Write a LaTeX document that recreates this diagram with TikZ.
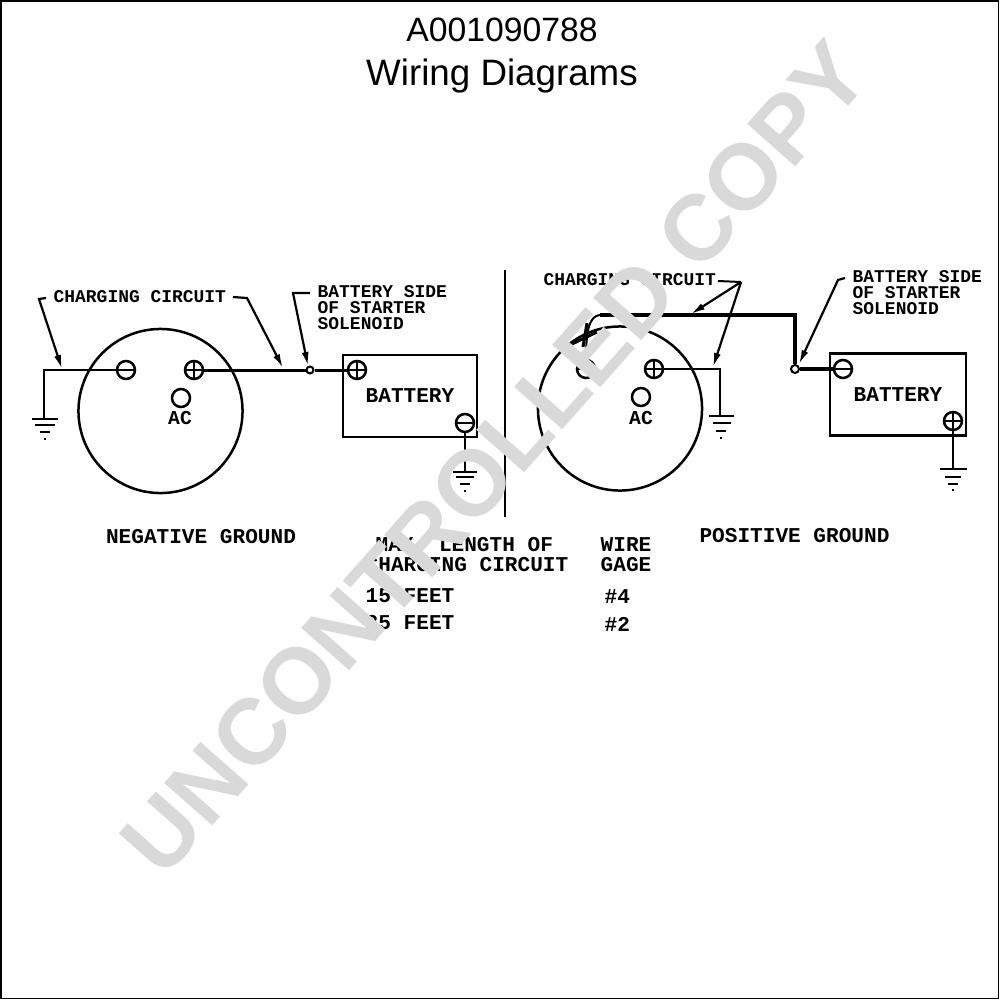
\documentclass[tikz,border=0pt]{standalone}
\usepackage{fontspec}
\setmainfont{Liberation Sans}
\newfontfamily\platefont{Liberation Mono}[BoldFont={Liberation Mono Bold}]
\usetikzlibrary{arrows.meta}
\tikzset{
    terminal/.style={circle,draw,line width=.025cm,minimum size=.18cm,inner sep=0pt},
    termplus/.style={terminal,path picture={
        \draw[line width=.025cm] (path picture bounding box.north) -- (path picture bounding box.south);
        \draw[line width=.025cm] (path picture bounding box.west) -- (path picture bounding box.east);}},
    termminus/.style={terminal,path picture={
        \draw[line width=.025cm] (path picture bounding box.west) -- (path picture bounding box.east);}},
    junction/.style={circle,draw,fill=white,line width=.02cm,minimum size=.07cm,inner sep=0pt},
    gencircle/.style={circle,draw,line width=.025cm,minimum size=1.64cm,inner sep=0pt},
    batterybox/.style={rectangle,draw,line width=.025cm,minimum width=1.36cm,minimum height=.82cm,inner sep=0pt,font=\platefont\fontsize{6.0}{7}\selectfont\bfseries},
    tag/.style={inner sep=0pt,anchor=west,align=left,font=\platefont\fontsize{5.1}{4.55}\selectfont\bfseries},
    legend/.style={inner sep=0pt,anchor=west,align=left,font=\platefont\fontsize{6.0}{5.7}\selectfont\bfseries},
    wire/.style={line width=.02cm},
    mainwire/.style={line width=.03cm},
    heavywire/.style={line width=.04cm},
    leader/.style={line width=.022cm,-{Latex[length=.14cm,width=.07cm]}},
    groundbar/.style={line width=.02cm}
}
\begin{document}
\begin{tikzpicture}[x=.01cm,y=-.01cm] %Negativo y positivo a tierra
    \useasboundingbox (0,0) rectangle (1000,1000);
    \draw[line width=.014cm] (1,1) rectangle (998.5,998.5);

    \node[font=\fontsize{9.6}{11}\selectfont] (titlecode) at (502,30) {A001090788};
    \node[font=\fontsize{10.45}{12}\selectfont] (titlename) at (502,76) {Wiring Diagrams};

    % negative ground
    \node[gencircle] (lgen) at (160.5,411) {};
    \node[termminus] (lminus) at (126,370) {};
    \node[termplus] (lplus) at (194,370) {};
    \node[terminal] (lac) at (181,398) {};
    \node[font=\platefont\fontsize{5.6}{7}\selectfont\bfseries] (laclabel) at (180,418) {AC};
    \node[batterybox,minimum width=1.34cm] (lbatt) at (410,396) {BATTERY};
    \node[termplus] (lbattplus) at (357,370) {};
    \node[termminus] (lbattminus) at (465,423) {};
    \node[junction] (lsol) at (310,370) {};

    \coordinate (lgnd) at (44,418);
    \coordinate (lgndb) at (465,472);
    \draw[wire] (lgnd) |- (lminus);
    \draw[mainwire] (lplus) -- (lsol);
    \draw[mainwire] (lsol) -- (lbattplus);
    \draw[wire] (lbattminus) -- (lgndb);

    \draw[groundbar] (32,419) -- (58,419);
    \draw[groundbar] (35,425) -- (55,425);
    \draw[groundbar] (40,432) -- (50,432);
    \draw[groundbar] (44,439) -- (46,439);
    \draw[groundbar] (453,472) -- (477,472);
    \draw[groundbar] (456,477) -- (474,477);
    \draw[groundbar] (460,484) -- (470,484);
    \draw[groundbar] (464,491) -- (466,491);

    \node[tag] (lcharge) at (53,297) {CHARGING CIRCUIT};
    \node[tag] (lside) at (317,308) {BATTERY SIDE\\OF STARTER\\SOLENOID};
    \coordinate (lhooka) at (46,298);
    \coordinate (lbenda) at (39,299);
    \coordinate (lhookb) at (233,297);
    \coordinate (lbendb) at (247,298);
    \coordinate (lhookc) at (310,293);
    \coordinate (lbendc) at (293,293);
    \coordinate (ltipa) at (62,369);
    \coordinate (ltipb) at (283,368);
    \coordinate (ltipc) at (308,366);
    \draw[leader] (lhooka) -- (lbenda) -- (ltipa);
    \draw[leader] (lhookb) -- (lbendb) -- (ltipb);
    \draw[leader] (lhookc) -- (lbendc) -- (ltipc);

    \node[legend,anchor=center] (lname) at (201,537) {NEGATIVE GROUND};

    % divider
    \coordinate (divtop) at (505,270);
    \coordinate (divbot) at (505,517);
    \draw[wire] (divtop) -- (divbot);

    % positive ground
    \node[gencircle] (rgen) at (620,408.5) {};
    \node[termminus] (rminus) at (586,369) {};
    \node[termplus] (rplus) at (654,369) {};
    \node[terminal] (rac) at (641,397) {};
    \node[font=\platefont\fontsize{5.6}{7}\selectfont\bfseries] (raclabel) at (641,418) {AC};
    \node[batterybox] (rbatt) at (898,394.5) {BATTERY};
    \node[termminus] (rbattminus) at (843,369) {};
    \node[termplus] (rbattplus) at (953,421) {};
    \node[junction,minimum size=.08cm] (rsol) at (795,369) {};

    \coordinate (rgnd) at (720,415);
    \coordinate (rgndb) at (953,469);
    \coordinate (rtopa) at (600,315);
    \coordinate (rtopb) at (795,315);
    \draw[wire] (rplus) -| (rgnd);
    \draw[heavywire] (rsol) -- (rbattminus);
    \draw[heavywire] (rsol) -- (rtopb) -- (rtopa);
    \draw[wire] (rtopa) .. controls (590,316) and (586,328) .. (rminus);
    \draw[wire] (rbattplus) -- (rgndb);

    % la cruz sobre el cable
    \draw[mainwire] (572,344) -- (597,332);
    \draw[mainwire] (587,323) -- (583,347);

    \draw[groundbar] (709,416) -- (734,416);
    \draw[groundbar] (713,423) -- (731,423);
    \draw[groundbar] (716,431) -- (726,431);
    \draw[groundbar] (720,438) -- (722,438);
    \draw[groundbar] (940,469) -- (967,469);
    \draw[groundbar] (945,477) -- (961,477);
    \draw[groundbar] (948,484) -- (958,484);
    \draw[groundbar] (952,490) -- (954,490);

    \node[tag] (rcharge) at (543,280) {CHARGING CIRCUIT};
    \node[tag] (rside) at (852,293) {BATTERY SIDE\\OF STARTER\\SOLENOID};
    \coordinate (rhook) at (718,281);
    \coordinate (rhub) at (741,282);
    \coordinate (rhookc) at (845,278);
    \coordinate (rbendc) at (838,280);
    \coordinate (rtipa) at (691,314);
    \coordinate (rtipb) at (713,367);
    \coordinate (rtipc) at (799,364);
    \draw[wire] (rhook) -- (rhub);
    \draw[leader] (rhub) -- (rtipa);
    \draw[leader] (rhub) -- (rtipb);
    \draw[leader] (rhookc) -- (rbendc) -- (rtipc);

    \node[legend,anchor=center] (rname) at (794.5,536) {POSITIVE GROUND};

    % tabla
    \node[legend] (maxlen) at (375,545) {MAX. LENGTH OF};
    \node[legend] (maxcirc) at (365,565) {CHARGING CIRCUIT};
    \node[legend] (gagea) at (600,545) {WIRE};
    \node[legend] (gageb) at (600,565) {GAGE};
    \node[legend] (feeta) at (365,596) {15 FEET};
    \node[legend] (feetb) at (365,623) {25 FEET};
    \node[legend] (sizea) at (604,597) {\#4};
    \node[legend] (sizeb) at (604,624) {\#2};

    % marca de agua encima de todo
    \node[rotate=48.5,text=black!15,font=\fontsize{26.5}{30}\selectfont\bfseries,inner sep=0pt] (stamp) at (495,458) {UNCONTROLLED COPY};
\end{tikzpicture}
\end{document}
